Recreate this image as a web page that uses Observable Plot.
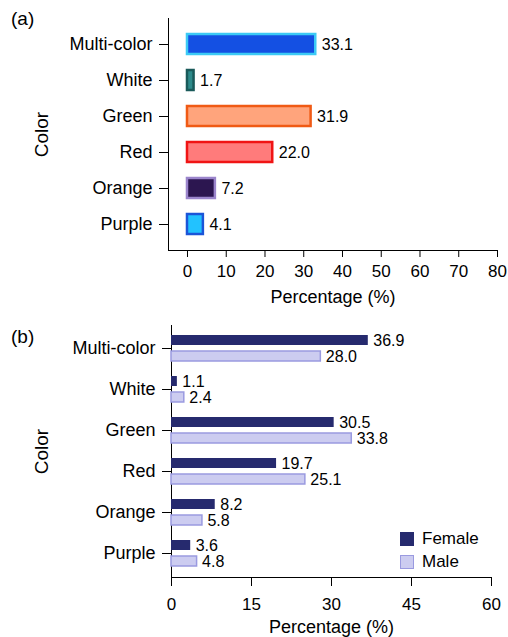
<!DOCTYPE html>
<html><head><meta charset="utf-8">
<script src="https://cdn.jsdelivr.net/npm/d3@7"></script>
<script src="https://cdn.jsdelivr.net/npm/@observablehq/plot@0.6"></script>
<style>
body{margin:0;background:#fff;font-family:"Liberation Sans",Arial,sans-serif;}
#wrap{position:relative;width:508px;height:637px;overflow:hidden;}
#wrap svg{display:block;}
#wrap g[aria-label="y-axis tick label"]{font-size:18px;}
#wrap g[aria-label="y-axis label"]{font-size:19px;}
.tag{position:absolute;font-size:19px;line-height:1;color:#000;}
.leg{position:absolute;left:400px;font-size:17px;line-height:1;color:#000;display:flex;align-items:center;}
.leg span.sw{display:inline-block;width:14px;height:14px;box-sizing:border-box;margin-right:8px;}
</style></head><body><div id="wrap"></div>
<script>
const categories = ["Multi-color","White","Green","Red","Orange","Purple"];
const overallValues = [33.1, 1.7, 31.9, 22.0, 7.2, 4.1];
const overallFill = ["#1450e3","#2e8b8b","#ffa47c","#ff7b7b","#2c1650","#22c2ff"];
const overallStroke = ["#3ccaf5","#1a5a5a","#f05a14","#f01414","#9b85cc","#1b55d8"];
const femaleValues = [36.9, 1.1, 30.5, 19.7, 8.2, 3.6];
const maleValues = [28.0, 2.4, 33.8, 25.1, 5.8, 4.8];
const sexes = ["Female","Male"];
const sexFill = ["#262a6e","#ccccf0"];
const sexStroke = ["#262a6e","#9a9ae0"];
const ticksA = [0,10,20,30,40,50,60,70,80];
const ticksB = [0,15,30,45,60];
const xTitle = "Percentage (%)";
const yTitle = "Color";

const font = '"Liberation Sans", Arial, sans-serif';
const wrap = document.getElementById("wrap");

const dataA = categories.map((c,i)=>({color:c, value:overallValues[i], fill:overallFill[i], stroke:overallStroke[i]}));
const plotA = Plot.plot({
  width:508, height:310, marginTop:18, marginBottom:60, marginLeft:168, marginRight:11,
  style:{fontFamily:font, fontSize:"17px", color:"#000", background:"#fff", overflow:"visible"},
  color:{type:"identity"},
  x:{domain:[-4.9,80], ticks:ticksA, tickSize:7, tickPadding:7, line:true, label:null},
  y:{domain:categories, paddingInner:0.457, paddingOuter:0.38, tickSize:9, tickPadding:7, line:true, label:yTitle, labelAnchor:"center", labelOffset:134},
  marks:[
    Plot.barX(dataA,{x:"value", y:"color", fill:"fill", stroke:"stroke", strokeWidth:2.5}),
    Plot.text(dataA,{x:"value", y:"color", text:d=>d.value.toFixed(1), textAnchor:"start", dx:6, fontSize:16, fill:"#000"}),
    Plot.text([xTitle],{frameAnchor:"bottom", dy:52, fontSize:18, fill:"#000"})
  ]
});
wrap.appendChild(plotA);

const dataB = categories.flatMap((c,i)=>[
  {color:c, sex:sexes[0], value:femaleValues[i]},
  {color:c, sex:sexes[1], value:maleValues[i]}
]);
const fem = dataB.filter(d=>d.sex===sexes[0]);
const mal = dataB.filter(d=>d.sex===sexes[1]);
const plotB = Plot.plot({
  width:508, height:327, marginTop:15, marginBottom:60, marginLeft:171, marginRight:17,
  style:{fontFamily:font, fontSize:"17px", color:"#000", background:"#fff", overflow:"visible"},
  x:{domain:[0,60], ticks:ticksB, tickSize:9, tickPadding:11, line:true, label:null},
  y:{domain:categories, paddingInner:0.357, paddingOuter:0.179, tickSize:9, tickPadding:7, line:true, label:yTitle, labelAnchor:"center", labelOffset:137},
  color:{domain:sexes, range:sexFill},
  marks:[
    Plot.barX(fem,{x:"value", y:"color", fill:"sex", insetBottom:16}),
    Plot.barX(mal,{x:"value", y:"color", fill:"sex", stroke:sexStroke[1], strokeWidth:1.5, insetTop:16}),
    Plot.text(fem,{x:"value", y:"color", text:d=>d.value.toFixed(1), textAnchor:"start", dx:5, dy:-8, fontSize:16, fill:"#000"}),
    Plot.text(mal,{x:"value", y:"color", text:d=>d.value.toFixed(1), textAnchor:"start", dx:5, dy:8, fontSize:16, fill:"#000"}),
    Plot.text([xTitle],{frameAnchor:"bottom", dy:55, fontSize:18, fill:"#000"})
  ]
});
wrap.appendChild(plotB);

function addTag(t, top){
  const d = document.createElement("div"); d.className="tag"; d.textContent=t;
  d.style.left="11px"; d.style.top=top+"px"; wrap.appendChild(d);
}
addTag("(a)", 9);
addTag("(b)", 327);

sexes.forEach((s,i)=>{
  const d = document.createElement("div"); d.className="leg";
  d.style.top=(530+i*23)+"px";
  const sw = document.createElement("span"); sw.className="sw";
  sw.style.background=sexFill[i]; sw.style.border="1.5px solid "+sexStroke[i];
  d.appendChild(sw);
  const tx = document.createElement("span"); tx.textContent=s; d.appendChild(tx);
  wrap.appendChild(d);
});
</script></body></html>
